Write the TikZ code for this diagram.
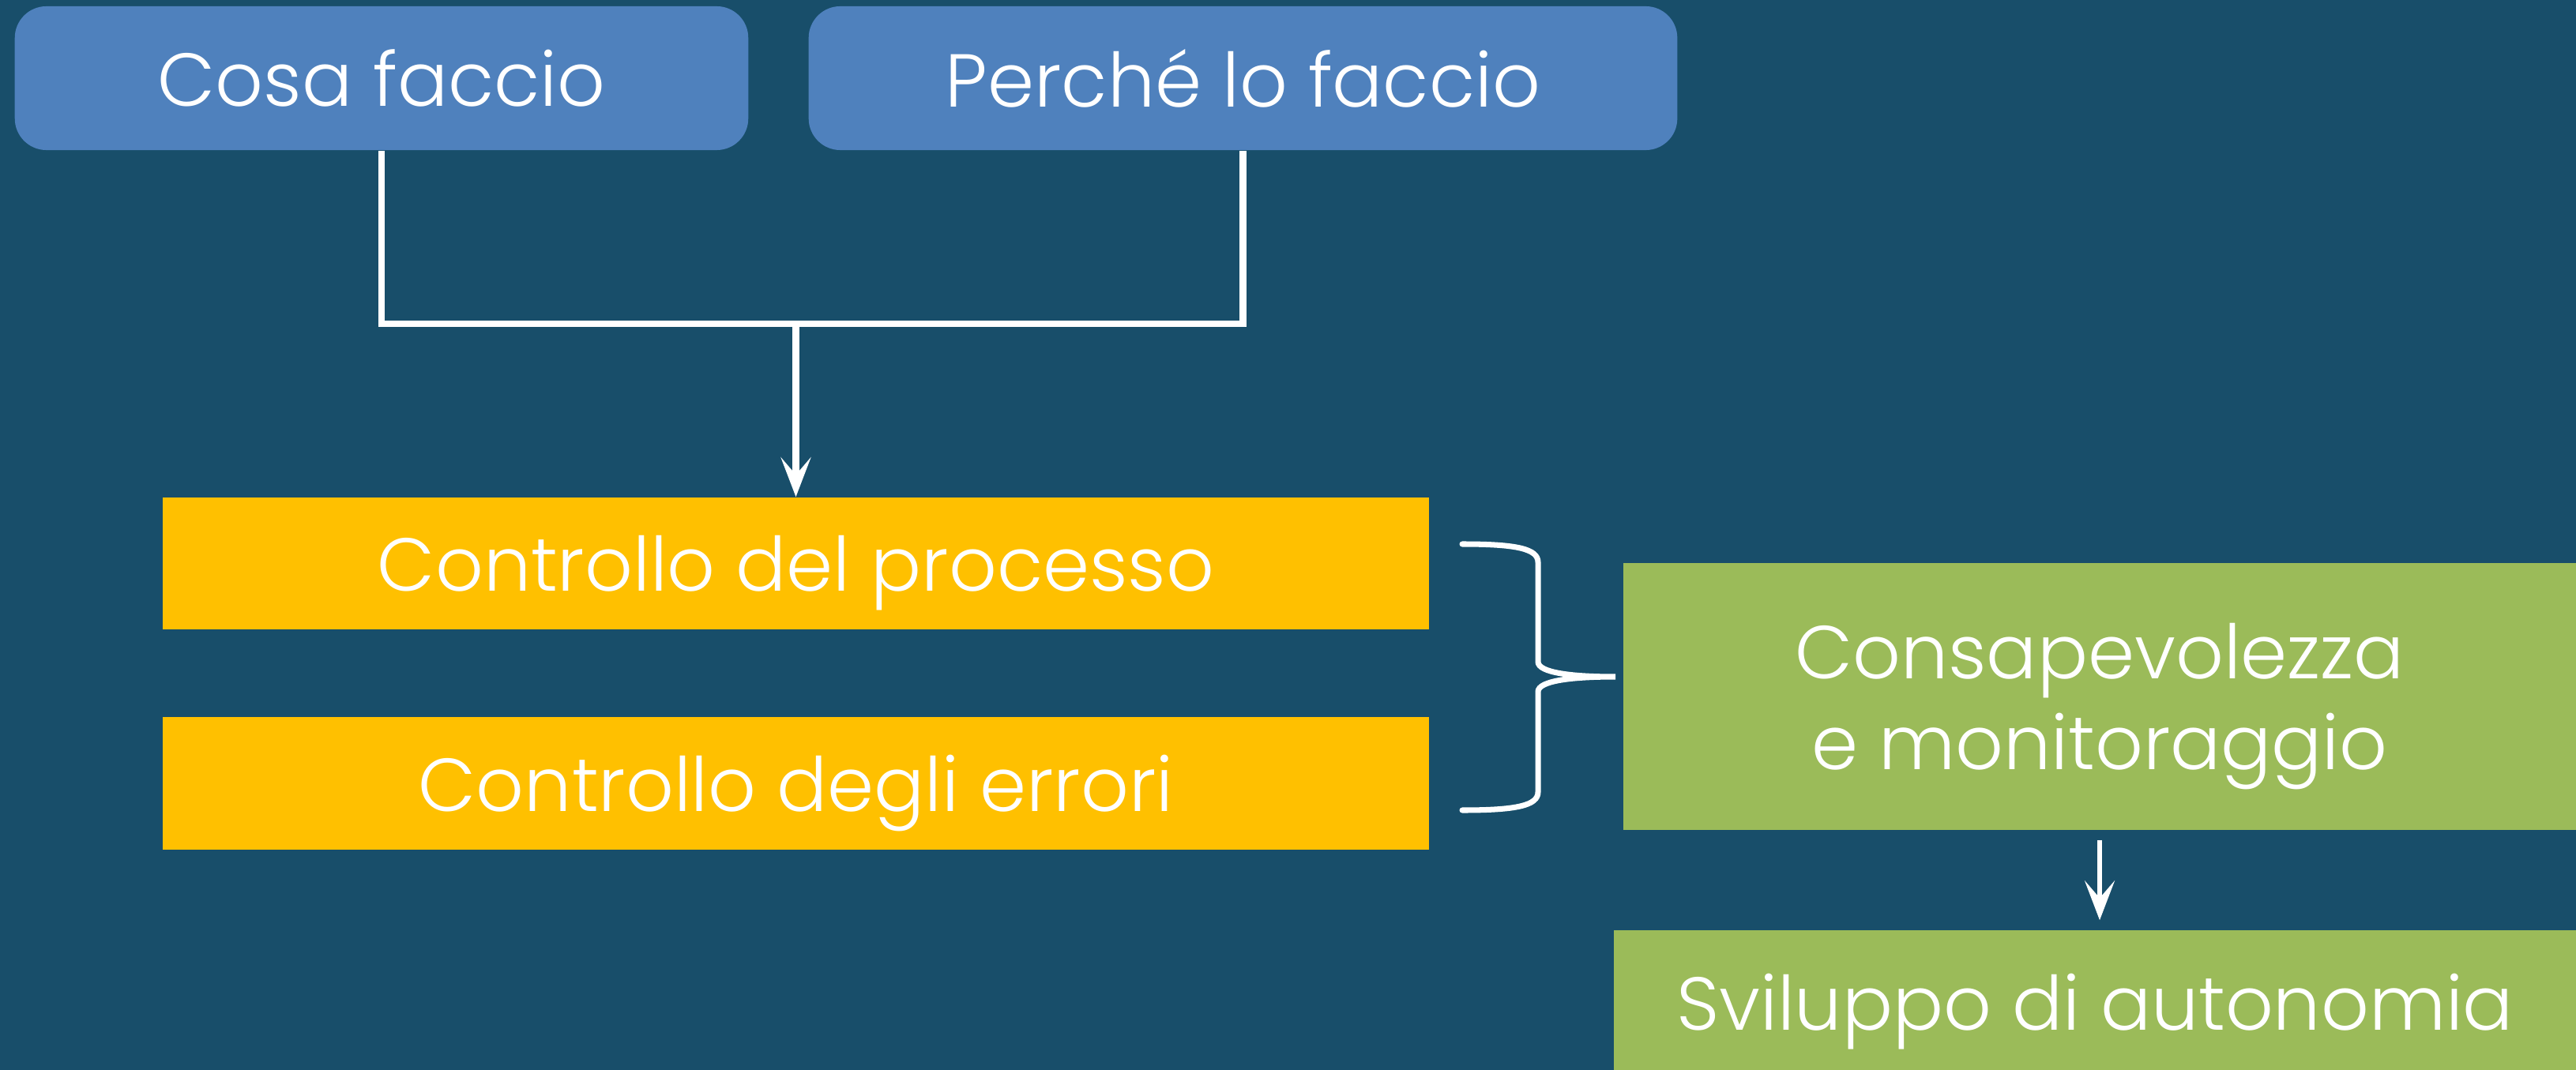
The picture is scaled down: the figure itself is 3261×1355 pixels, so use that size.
\documentclass[tikz,border=0pt]{standalone}
\usepackage{fontspec}
\IfFontExistsTF{Poppins Light}{\setmainfont{Poppins Light}}{\setmainfont{Poppins}}
\usetikzlibrary{arrows.meta,positioning,calc}
\definecolor{bgTeal}{HTML}{184E6A}
\definecolor{boxBlue}{HTML}{4F81BD}
\definecolor{boxGold}{HTML}{FFC000}
\definecolor{boxGreen}{HTML}{9BBB59}

\begin{document}
\begin{tikzpicture}[x=0.01cm,y=-0.01cm,
    every node/.style={text=white,font=\fontsize{27}{32.6}\selectfont,align=center,inner sep=0pt,text depth=0pt},
    question/.style={fill=boxBlue,rounded corners=0.4cm,minimum height=1.82cm},
    control/.style={fill=boxGold,minimum width=16.03cm,minimum height=1.67cm},
    outcome/.style={fill=boxGreen},
    link/.style={draw=white,line width=2.3pt},
    tip/.style={-{Stealth[length=0.5cm,width=0.38cm,inset=0.22cm]}}]

      % background and page size
      \fill[bgTeal] (0,0) rectangle (3261,1355);
      \useasboundingbox (0,0) rectangle (3261,1355);

      % the two questions
      \node[question,minimum width=9.28cm]  (cosa)   at (483,99)    {Cosa faccio};
      \node[question,minimum width=10.99cm] (perche) at (1573.5,99) {Perché lo faccio};

      % the two controls
      \foreach \name/\ypos/\txt in {proc/713.5/{Controllo del processo},
                                    err/992/{Controllo degli errori}}
      \node[control] (\name) at (1007.5,\ypos) {\txt};

      % the green outcomes
      \node[outcome,minimum width=12.06cm,minimum height=3.38cm] (cons) at (2658,882)
        {Consapevolezza\\e monitoraggio};
      \node[outcome,minimum width=12.18cm,minimum height=1.82cm] (svil) at (2652,1269)
        {Sviluppo di autonomia};

      % join the questions
      \coordinate (join) at (proc.north |- 0,410);
      \draw[link] (cosa.south) |- (join) -| (perche.south);
      \draw[link,tip] (join) -- (proc.north);

      % the brace
      \coordinate (braceTop) at (1851,689);
      \coordinate (braceBot) at (1851,1026);
      \coordinate (braceTip) at (2045,857);
      \draw[white,line width=2pt,line cap=round]
        (braceTop) .. controls (1920,689) and (1947,695) .. (1947,712)
        -- (1947,838) .. controls (1947,852) and (1990,857) .. (braceTip)
        .. controls (1990,857) and (1947,862) .. (1947,876)
        -- (1947,1003) .. controls (1947,1020) and (1920,1026) .. (braceBot);

      % to autonomy
      \draw[link,line width=1.7pt,tip,shorten <=0.12cm,shorten >=0.12cm]
        (cons.south) -- (cons.south |- svil.north);

\end{tikzpicture}
\end{document}
